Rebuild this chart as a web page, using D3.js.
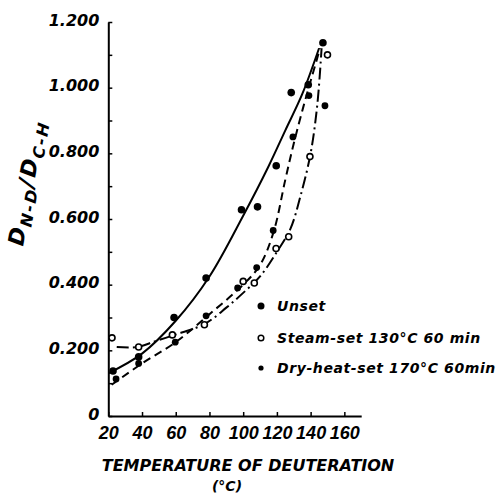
<!DOCTYPE html>
<meta charset="utf-8">
<style>
body { margin: 0; background: #fff; }
text { font-family: "DejaVu Sans", sans-serif; font-weight: bold; font-style: italic; fill: #000; }
.curve { fill: none; stroke: #000; }
</style>
<body>
<script src="https://cdn.jsdelivr.net/npm/d3@7/dist/d3.min.js"></script>
<script>

// measured points
var unsetTemp = [22.8, 38, 59, 78, 99, 108.5, 119.6, 128.5, 138.6, 147.3];
var unsetVal  = [0.137, 0.18, 0.30, 0.42, 0.628, 0.637, 0.762, 0.985, 1.009, 1.137];

var steamTemp = [22.2, 38, 58, 77, 100, 106.6, 119.5, 127, 139.6, 150];
var steamVal  = [0.238, 0.21, 0.247, 0.278, 0.41, 0.405, 0.51, 0.546, 0.79, 1.10];

var dryTemp = [24.6, 38, 59.7, 78, 96.7, 108, 117.8, 129.5, 139, 148.5];
var dryVal  = [0.113, 0.16, 0.225, 0.305, 0.39, 0.452, 0.565, 0.85, 0.976, 0.945];

// fitted curves as drawn
var unsetCurveTemp = [20, 40, 60, 80, 100, 115, 125, 135, 145];
var unsetCurveVal  = [0.13, 0.19, 0.29, 0.425, 0.61, 0.76, 0.87, 0.98, 1.12];

var steamCurveTemp = [25, 37, 48, 58, 77, 90, 100, 110, 120, 128, 134, 140, 144, 146.5];
var steamCurveVal  = [0.21, 0.21, 0.228, 0.245, 0.28, 0.33, 0.375, 0.425, 0.50, 0.57, 0.67, 0.80, 0.95, 1.12];

var dryCurveTemp = [22, 40, 60, 80, 100, 110, 118, 125, 130, 135.6, 140, 145.6];
var dryCurveVal  = [0.095, 0.16, 0.225, 0.31, 0.40, 0.46, 0.56, 0.72, 0.83, 0.94, 1.02, 1.12];

var xTicks = [20, 40, 60, 80, 100, 120, 140, 160];
var yTicks = [0, 0.1, 0.2, 0.3, 0.4, 0.5, 0.6, 0.7, 0.8, 0.9, 1.0, 1.1, 1.2];
var yTickLabels = {"0": "0", "0.2": "0.200", "0.4": "0.400", "0.6": "0.600", "0.8": "0.800", "1": "1.000", "1.2": "1.200"};

var legendNames = ["Unset", "Steam-set 130\u00B0C 60 min", "Dry-heat-set 170\u00B0C 60min"];

var width = 496, height = 493;

var svg = d3.select("body").append("svg")
    .attr("width", width)
    .attr("height", height);

var x = d3.scaleLinear().domain([20, 170]).range([108.3, 361.2]);
var y = d3.scaleLinear().domain([0, 1.2]).range([416, 22]);

// axes
var xAxis = svg.append("g")
    .attr("transform", "translate(0," + y(0) + ")")
    .call(d3.axisBottom(x).tickValues(xTicks).tickSizeInner(-4).tickSizeOuter(0).tickPadding(12).tickFormat(d3.format("d")));
xAxis.select(".domain").attr("stroke-width", 2);
xAxis.selectAll(".tick line").attr("stroke-width", 1.5);
xAxis.selectAll(".tick text")
    .style("font-size", "18px")
    .style("font-family", "'Liberation Sans', sans-serif")
    .attr("dy", "0.6em");

var yAxis = svg.append("g")
    .attr("transform", "translate(" + x(20) + ",0)")
    .call(d3.axisLeft(y).tickValues(yTicks).tickSizeInner(-4).tickSizeOuter(0).tickPadding(9)
      .tickFormat(function(d) { return yTickLabels[String(+d.toFixed(1))] || ""; }));
yAxis.select(".domain").attr("stroke-width", 2);
yAxis.selectAll(".tick line").attr("stroke-width", 1.5);
yAxis.selectAll(".tick text")
    .style("font-size", "16px")
    .attr("dy", "0.2em");

// axis titles
svg.append("text")
    .attr("text-anchor", "middle")
    .attr("x", 248).attr("y", 471)
    .attr("font-size", 16)
    .text("TEMPERATURE OF DEUTERATION");
svg.append("text")
    .attr("text-anchor", "middle")
    .attr("x", 227).attr("y", 491)
    .attr("font-size", 14)
    .text("(\u00B0C)");

var ylab = svg.append("text")
    .attr("text-anchor", "middle")
    .attr("font-size", 22)
    .attr("letter-spacing", 2)
    .attr("transform", "translate(34,184)rotate(-80)");
ylab.append("tspan").text("D");
ylab.append("tspan").attr("font-size", 16).attr("dy", 5).text("N-D");
ylab.append("tspan").attr("dy", -5).text("/D");
ylab.append("tspan").attr("font-size", 16).attr("dy", 5).text("C-H");

// curves
var line = d3.line()
    .x(function(d) { return x(d[0]); })
    .y(function(d) { return y(d[1]); })
    .curve(d3.curveCatmullRom.alpha(0.5));

svg.append("path")
    .datum(d3.zip(unsetCurveTemp, unsetCurveVal))
    .attr("class", "curve")
    .attr("stroke-width", 2)
    .attr("d", line);

svg.append("path")
    .datum(d3.zip(dryCurveTemp, dryCurveVal))
    .attr("class", "curve")
    .attr("stroke-width", 2)
    .attr("stroke-dasharray", "8,5")
    .attr("d", line);

svg.append("path")
    .datum(d3.zip(steamCurveTemp, steamCurveVal))
    .attr("class", "curve")
    .attr("stroke-width", 2)
    .attr("stroke-dasharray", "12,4,2,4")
    .attr("d", line);

// points
svg.selectAll(".unset").data(d3.zip(unsetTemp, unsetVal)).enter()
  .append("circle")
    .attr("cx", function(d) { return x(d[0]); })
    .attr("cy", function(d) { return y(d[1]); })
    .attr("r", 3.8)
    .attr("fill", "#000");

svg.selectAll(".dry").data(d3.zip(dryTemp, dryVal)).enter()
  .append("circle")
    .attr("cx", function(d) { return x(d[0]); })
    .attr("cy", function(d) { return y(d[1]); })
    .attr("r", 3.4)
    .attr("fill", "#000");

svg.selectAll(".steam").data(d3.zip(steamTemp, steamVal)).enter()
  .append("circle")
    .attr("cx", function(d) { return x(d[0]); })
    .attr("cy", function(d) { return y(d[1]); })
    .attr("r", 3)
    .attr("fill", "#fff")
    .attr("stroke", "#000")
    .attr("stroke-width", 1.6);

// legend
var legendY = [306, 338, 368];
var leg = svg.append("g");
leg.append("circle").attr("cx", 261).attr("cy", legendY[0]).attr("r", 3.5).attr("fill", "#000");
leg.append("circle").attr("cx", 261).attr("cy", legendY[1]).attr("r", 2.8)
    .attr("fill", "#fff").attr("stroke", "#000").attr("stroke-width", 1.5);
leg.append("circle").attr("cx", 261).attr("cy", legendY[2]).attr("r", 2.6).attr("fill", "#000");
leg.selectAll("text").data(legendNames).enter()
  .append("text")
    .attr("x", 277)
    .attr("y", function(d, i) { return legendY[i] + 5; })
    .attr("font-size", 14)
    .attr("letter-spacing", 0.6)
    .text(function(d) { return d; });

</script>
</body>
</html>
